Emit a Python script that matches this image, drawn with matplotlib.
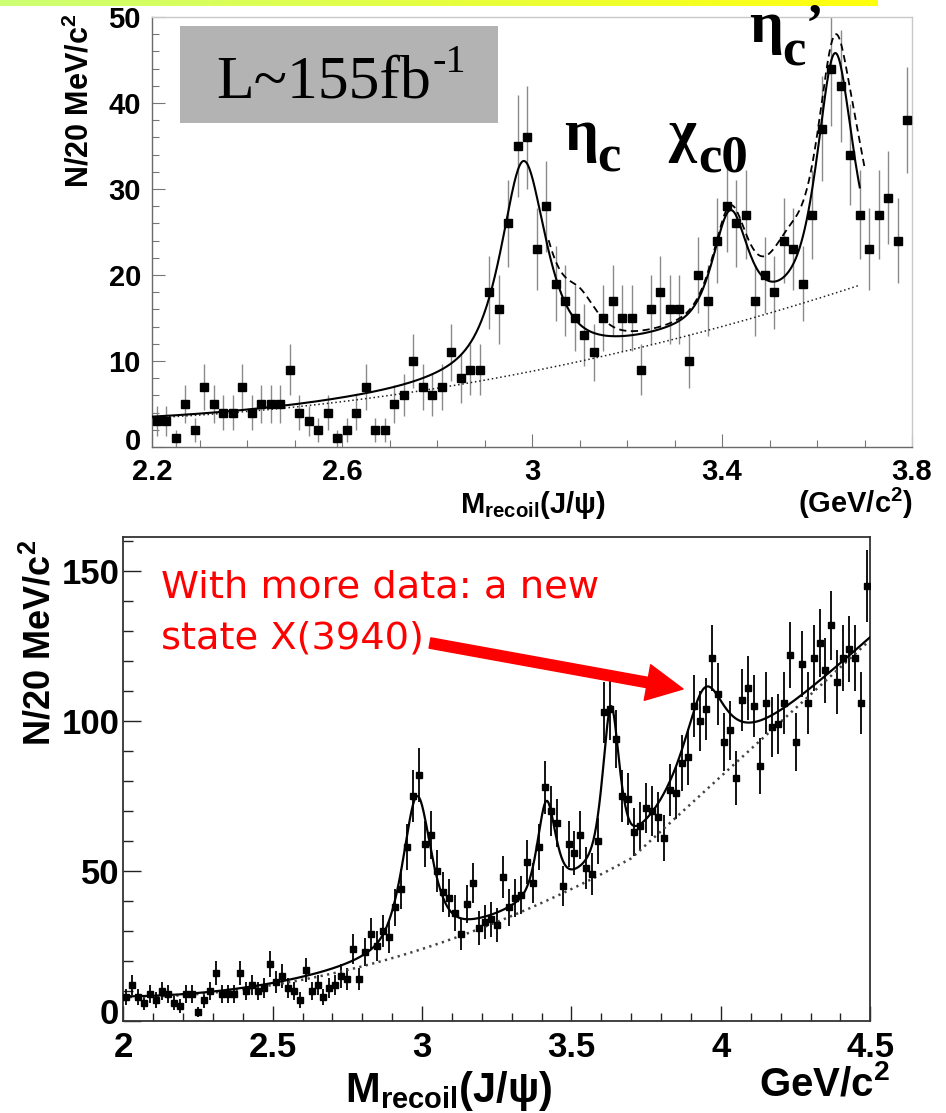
import numpy as np
import matplotlib
matplotlib.use("Agg")
import matplotlib.pyplot as plt
from matplotlib.patches import FancyArrowPatch, Rectangle

plt.rcParams["font.family"] = ["Liberation Sans", "DejaVu Sans"]
plt.rcParams["font.weight"] = "bold"
plt.rcParams["mathtext.fontset"] = "custom"
plt.rcParams["mathtext.rm"] = "Liberation Sans:bold"
plt.rcParams["mathtext.bf"] = "Liberation Sans:bold"
plt.rcParams["mathtext.it"] = "Liberation Sans:bold"

W, H, DPI = 946, 1113, 100

# ---------------- upper panel: L ~ 155 fb^-1, 20 MeV bins from 2.20 ----------------
top_lo, top_bin = 2.20, 0.02
top_counts = [3, 3, 1, 5, 2, 7, 5, 4, 4, 7, 4, 5, 5, 5, 9,
              4, 3, 2, 4, 1, 2, 4, 7, 2, 2, 5, 6, 10, 7, 6, 7, 11, 8, 9, 9,
              18, 16, 26, 35, 36, 23, 28, 19, 17, 15, 13, 11, 15, 17, 15, 15, 9, 16, 18, 16,
              16, 10, 20, 17, 24, 28, 26, 27, 17, 20, 18, 24, 23, 19, 27, 37, 44, 42, 34, 27,
              23, 27, 29, 24, 38]
top_xticks = [2.2, 2.6, 3.0, 3.4, 3.8]
top_xticklabels = ["2.2", "2.6", "3", "3.4", "3.8"]
top_yticks = [0, 10, 20, 30, 40, 50]
top_yticklabels = ["0", "10", "20", "30", "40", "50"]

# fit: polynomial background in (M - 2.2) plus pseudo-Voigt peaks (eta_c, chi_c0, eta_c')
top_bkg_coef = [3.4, 2.6, 5.2]
top_fit_range = (2.20, 3.69)
top_peak_mass = [2.982, 3.417, 3.638]
top_peak_hwhm = [0.058, 0.043, 0.044]
top_peak_eta = [0.8, 0.6, 0.6]
top_peak_height = [24.5, 12.3, 27.5]
# alternative fit (dashed) adds J/psi, chi_c1/c2 and psi(2S) components
top_alt_range = (3.035, 3.70)
top_alt_mass = [3.100, 3.540, 3.690]
top_alt_hwhm = [0.045, 0.050, 0.035]
top_alt_height = [4.2, 5.0, 5.0]

# ---------------- lower panel: full data set, 20 MeV bins from 2.00 ----------------
bot_lo, bot_bin = 2.00, 0.02
bot_counts = [8, 12, 8, 6, 9, 7, 10, 9, 6, 5, 9, 9, 3, 7, 10, 16, 9, 9, 9, 16, 10, 12, 10, 11, 19,
              13, 15, 11, 10, 7, 17, 10, 12, 8, 11, 12, 15, 14, 24, 14, 23, 29, 25, 30, 28, 38, 44, 58, 75, 82,
              59, 62, 50, 43, 41, 36, 29, 39, 46, 31, 33, 34, 32, 48, 38, 41, 42, 53, 46, 58, 78, 70, 66, 45, 59,
              56, 62, 51, 49, 60, 103, 104, 94, 75, 74, 63, 65, 71, 70, 68, 61, 77, 76, 86, 88, 105, 100, 104, 121, 109,
              93, 97, 81, 107, 111, 105, 85, 106, 98, 99, 106, 122, 93, 119, 106, 121, 126, 117, 132, 113, 121, 124, 121, 106, 145]
bot_xticks = [2.0, 2.5, 3.0, 3.5, 4.0, 4.5]
bot_xticklabels = ["2", "2.5", "3", "3.5", "4", "4.5"]
bot_yticks = [0, 50, 100, 150]
bot_yticklabels = ["0", "50", "100", "150"]

# fit: quadratic background in (M - 2.0) with a linear rise above threshold,
# plus pseudo-Voigt peaks (eta_c, chi_c0, psi(2S)-region, X(3940))
bot_bkg_coef = [8.0, 0.0, 16.0]
bot_bkg_threshold = 3.70
bot_bkg_slope_above = 91.0
bot_peak_mass = [2.983, 3.416, 3.632, 3.945]
bot_peak_hwhm = [0.058, 0.036, 0.033, 0.090]
bot_peak_eta = [0.7, 0.55, 0.6, 1.0]
bot_peak_height = [51.0, 31.0, 51.0, 34.0]


def pseudo_voigt(m, mass, hwhm, eta, height):
    u = (m - mass) / hwhm
    return height * (eta / (1.0 + u ** 2) + (1.0 - eta) * np.exp(-np.log(2.0) * u ** 2))


def top_background(m):
    t = m - 2.2
    return top_bkg_coef[0] + top_bkg_coef[1] * t + top_bkg_coef[2] * t ** 2


def top_total(m):
    y = top_background(m)
    for p in zip(top_peak_mass, top_peak_hwhm, top_peak_eta, top_peak_height):
        y = y + pseudo_voigt(m, *p)
    return y


def top_alternative(m):
    y = top_total(m)
    for mass, hw, h in zip(top_alt_mass, top_alt_hwhm, top_alt_height):
        y = y + pseudo_voigt(m, mass, hw, 0.6, h)
    return y


def bot_background(m):
    def poly(v):
        t = v - 2.0
        return bot_bkg_coef[0] + bot_bkg_coef[1] * t + bot_bkg_coef[2] * t ** 2
    above = poly(bot_bkg_threshold) + bot_bkg_slope_above * (m - bot_bkg_threshold)
    return np.where(m < bot_bkg_threshold, poly(m), above)


def bot_total(m):
    y = bot_background(m)
    for p in zip(bot_peak_mass, bot_peak_hwhm, bot_peak_eta, bot_peak_height):
        y = y + pseudo_voigt(m, *p)
    return y


def fig_xy(x, y):
    """pixel position (origin top-left) -> figure fraction"""
    return x / W, 1.0 - y / H


fig = plt.figure(figsize=(W / DPI, H / DPI), dpi=DPI)
fig.patch.set_facecolor("white")
renderer = fig.canvas.get_renderer()

# thin green-to-yellow band along the top edge
band = fig.add_axes([0, 1 - 6 / H, 877 / W, 6 / H])
grad = np.linspace(0, 1, 256)
c_left = np.array([0.80, 1.0, 0.45])
c_right = np.array([1.0, 1.0, 0.05])
band.imshow((c_left[None, :] * (1 - grad[:, None]) + c_right[None, :] * grad[:, None])[None, :, :],
            aspect="auto", extent=[0, 1, 0, 1])
band.set_axis_off()

# ================= upper panel =================
ax1 = fig.add_axes([152 / W, 1 - 447 / H, 760 / W, 430 / H])
ax1.set_xlim(2.2, 3.8)
ax1.set_ylim(0, 50)

top_x = top_lo + top_bin * (np.arange(len(top_counts)) + 0.5)
top_y = np.array(top_counts, dtype=float)
ax1.errorbar(top_x, top_y, yerr=np.sqrt(top_y), fmt="none", ecolor="#8a8a8a", elinewidth=1.0, zorder=2)
ax1.plot(top_x, top_y, "s", color="black", markersize=5.4, zorder=4)

mt = np.linspace(*top_fit_range, 800)
ax1.plot(mt, top_background(mt), color="#222222", lw=1.1, linestyle=(0, (1, 1.8)), zorder=3)
ax1.plot(mt, top_total(mt), color="black", lw=1.5, zorder=3)
ma = np.linspace(*top_alt_range, 500)
ax1.plot(ma, top_alternative(ma), color="black", lw=1.3, linestyle=(0, (4, 2.5)), zorder=3)

ax1.set_xticks(top_xticks)
ax1.set_xticklabels(top_xticklabels)
ax1.set_xticks(np.arange(2.2, 3.81, 0.1), minor=True)
ax1.set_yticks(top_yticks)
# the zero label sits in the corner next to "2.2"; it is drawn separately below
ax1.set_yticklabels([""] + top_yticklabels[1:])
ax1.set_yticks(np.arange(0, 51, 2), minor=True)
ax1.tick_params(which="both", direction="in", color="#777777", width=0.8, labelsize=21)
ax1.tick_params(which="major", length=9.5)
ax1.tick_params(which="minor", length=5)
ax1.tick_params(axis="x", pad=8)
ax1.tick_params(axis="y", pad=8)
for side, col in [("left", "#6a6a6a"), ("bottom", "#6a6a6a"), ("top", "#c8c8c8"), ("right", "#c8c8c8")]:
    ax1.spines[side].set_color(col)
    ax1.spines[side].set_linewidth(1.0)
fig.text(*fig_xy(141, 442), top_yticklabels[0], ha="right", va="center", fontsize=21)

fig.text(*fig_xy(80, 14), "N/20 MeV/c$^{2}$", rotation=90, ha="center", va="top", fontsize=22)
fig.text(*fig_xy(533, 505), r"M$_{\mathrm{recoil}}$(J/ψ)", ha="center", va="center", fontsize=21)
fig.text(*fig_xy(913, 503), "(GeV/c$^{2}$)", ha="right", va="center", fontsize=21)

# luminosity box
fig.patches.append(Rectangle(fig_xy(180, 123), 318 / W, 97 / H, transform=fig.transFigure,
                             facecolor="#b3b3b3", edgecolor="none", zorder=5))
serif = ["Liberation Serif", "DejaVu Serif"]
lum = fig.text(*fig_xy(216, 97), "L~155fb", family=serif, fontweight="normal", fontsize=44.5,
               ha="left", va="baseline", zorder=6)
lum_end = lum.get_window_extent(renderer=renderer).x1
fig.text((lum_end + 2) / W, 1 - 72 / H, "-1", family=serif, fontweight="normal", fontsize=29,
         ha="left", va="baseline", zorder=6)

# resonance labels
fig.text(*fig_xy(564, 150), "η", family=serif, fontweight="bold", fontsize=43, ha="left", va="baseline")
fig.text(*fig_xy(597, 172), "c", family=serif, fontweight="bold", fontsize=38, ha="left", va="baseline")
fig.text(*fig_xy(668, 150), "χ", family=serif, fontweight="bold", fontsize=43, ha="left", va="baseline")
fig.text(*fig_xy(698, 172), "c0", family=serif, fontweight="bold", fontsize=38, ha="left", va="baseline")
fig.text(*fig_xy(749, 42), "η", family=serif, fontweight="bold", fontsize=43, ha="left", va="baseline")
fig.text(*fig_xy(782, 66), "c", family=serif, fontweight="bold", fontsize=38, ha="left", va="baseline")
fig.text(*fig_xy(806, 40), "’", family=serif, fontweight="bold", fontsize=38, ha="left", va="baseline")

# ================= lower panel =================
ax2 = fig.add_axes([123.3 / W, 1 - 1021 / H, 747 / W, 484.4 / H])
ax2.set_xlim(2.0, 4.5)
ax2.set_ylim(0, 161.5)

bot_x = bot_lo + bot_bin * (np.arange(len(bot_counts)) + 0.5)
bot_y = np.array(bot_counts, dtype=float)
ax2.errorbar(bot_x, bot_y, yerr=np.sqrt(bot_y), fmt="none", ecolor="black", elinewidth=1.3, zorder=2)
ax2.plot(bot_x, bot_y, "s", color="black", markersize=4.4, zorder=4)

mb = np.linspace(2.0, 4.5, 1500)
ax2.plot(mb, bot_background(mb), color="#444444", lw=1.8, linestyle=(0, (0.9, 1.75)), zorder=3)
ax2.plot(mb, bot_total(mb), color="black", lw=1.6, zorder=3)

ax2.set_xticks(bot_xticks)
ax2.set_xticklabels(bot_xticklabels)
ax2.set_xticks(np.arange(2.0, 4.51, 0.1), minor=True)
ax2.set_yticks(bot_yticks)
ax2.set_yticklabels([""] + bot_yticklabels[1:])
ax2.set_yticks(np.arange(0, 161, 10), minor=True)
ax2.tick_params(which="both", direction="in", color="#222222", width=1.0, labelsize=25)
ax2.tick_params(axis="x", which="major", length=11)
ax2.tick_params(axis="x", which="minor", length=6)
ax2.tick_params(axis="y", which="major", length=13)
ax2.tick_params(axis="y", which="minor", length=7)
ax2.tick_params(axis="x", pad=7)
ax2.tick_params(axis="y", pad=3)
for side in ax2.spines.values():
    side.set_color("#333333")
    side.set_linewidth(1.3)
fig.text(*fig_xy(119, 1014), bot_yticklabels[0], ha="right", va="center", fontsize=25)

fig.text(*fig_xy(40, 540), "N/20 MeV/c$^{2}$", rotation=90, ha="center", va="top", fontsize=26)
fig.text(*fig_xy(449, 1091), r"M$_{\mathrm{recoil}}$(J/ψ)", ha="center", va="center", fontsize=30)
unit = fig.text(*fig_xy(890, 1096), "GeV/c$^{2}$", ha="right", va="baseline", fontsize=29)

# keep the unit label clear of the last tick label above it
fig.canvas.draw()
last_tick = ax2.get_xticklabels()[-1].get_window_extent(renderer=renderer)
unit_box = unit.get_window_extent(renderer=renderer)
if unit_box.y1 > last_tick.y0 - 1:
    shift = unit_box.y1 - last_tick.y0 + 1.5
    ux, uy = unit.get_position()
    unit.set_position((ux, uy - shift / H))

# annotation
red_font = ["DejaVu Sans"]
fig.text(*fig_xy(161, 598), "With more data: a new", family=red_font, fontweight="normal",
         fontsize=27.6, color="#ff0000", ha="left", va="baseline")
fig.text(*fig_xy(161, 648), "state X(3940)", family=red_font, fontweight="normal",
         fontsize=27.6, color="#ff0000", ha="left", va="baseline")
arrow = FancyArrowPatch(fig_xy(430, 643), fig_xy(683, 689), transform=fig.transFigure,
                        arrowstyle="simple,head_length=2.6,head_width=2.6,tail_width=0.75",
                        mutation_scale=10, color="#ff0000", shrinkA=0, shrinkB=0, zorder=6)
fig.patches.append(arrow)

fig.savefig("out.png", dpi=DPI, facecolor="white")
